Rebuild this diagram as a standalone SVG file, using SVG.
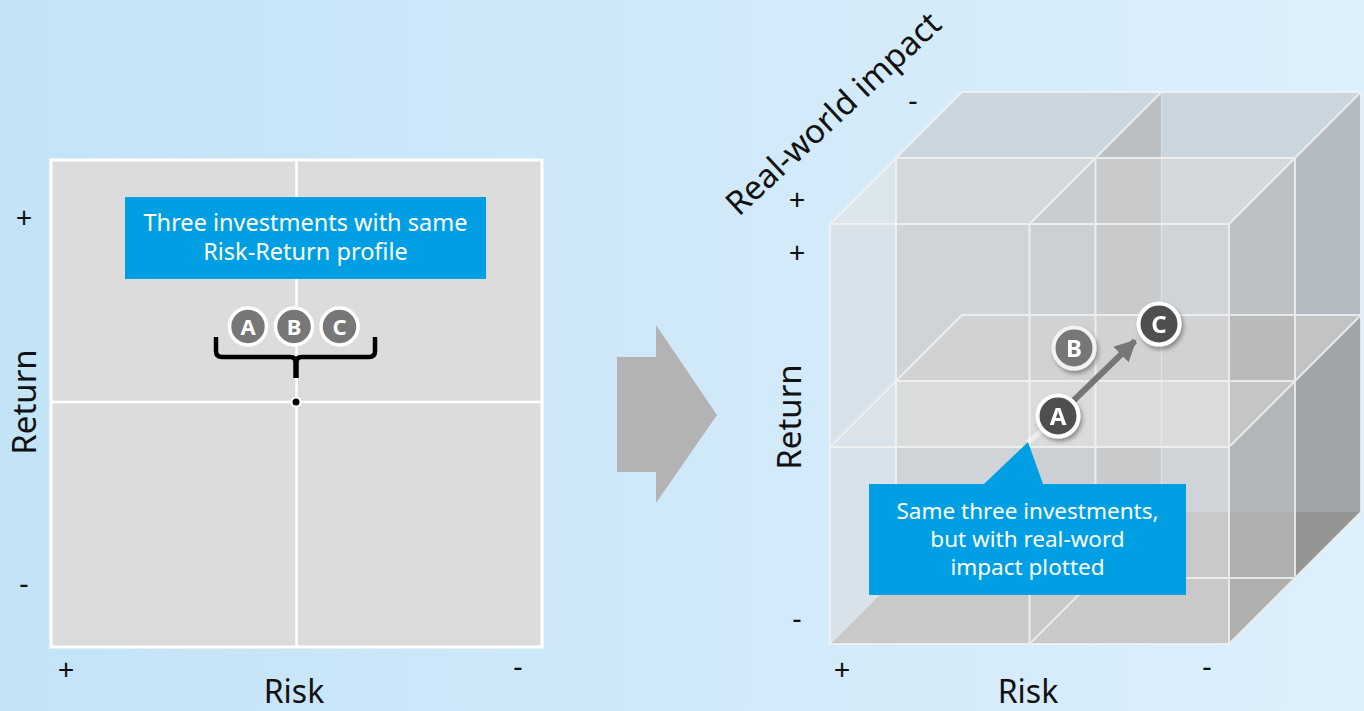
<svg xmlns="http://www.w3.org/2000/svg" width="1364" height="711" viewBox="0 0 1364 711">
<defs>
<linearGradient id="bg" x1="0" y1="0" x2="1" y2="0">
<stop offset="0" stop-color="#c3e3f7"/>
<stop offset="1" stop-color="#ddeffb"/>
</linearGradient>
<filter id="sh" x="-50%" y="-50%" width="200%" height="200%">
<feDropShadow dx="2" dy="3" stdDeviation="2" flood-color="#000" flood-opacity="0.35"/>
</filter>
<marker id="ah" viewBox="0 0 10 10" refX="9" refY="5" markerWidth="3.6" markerHeight="3.6" orient="auto" markerUnits="strokeWidth">
<path d="M0,0 L10,5 L0,10 Z" fill="#787575"/>
</marker>
</defs>
<style>
.t{font-family:"Noto Sans","Open Sans",sans-serif;fill:#111}
.ax{font-size:33px}
.rk{font-size:32px}
.pm{font-size:29px}
.bx{font-family:"Noto Sans","Open Sans",sans-serif;font-size:23.5px;fill:#fff;text-anchor:middle}
.bx2{font-family:"Noto Sans","Open Sans",sans-serif;font-size:22.5px;fill:#fff;text-anchor:middle}
.blue{fill:#009fe3}
.cl{font-family:"Noto Sans","Open Sans",sans-serif;font-weight:bold;fill:#fff;text-anchor:middle}
.edge{fill:none;stroke:#f4f4f4;stroke-opacity:0.8;stroke-width:2}
.faint{fill:none;stroke:#f4f4f4;stroke-opacity:0.45;stroke-width:1.5}
</style>
<rect width="1364" height="711" fill="url(#bg)"/>

<g id="left-chart">
<rect x="51" y="160" width="491" height="487" fill="#dcdcdc" stroke="#fff" stroke-width="3"/>
<line x1="296.5" y1="160" x2="296.5" y2="647" stroke="#fff" stroke-width="2.5"/>
<line x1="51" y1="402" x2="542" y2="402" stroke="#fff" stroke-width="2.5"/>
</g>

<g id="left-box">
<rect x="125" y="197" width="361" height="82" class="blue"/>
<text class="bx" x="305.5" y="231">Three investments with same</text>
<text class="bx" x="305.5" y="260">Risk-Return profile</text>
</g>

<g id="left-abc">
<path d="M216,337 V351 Q216,357 222,357 H290 Q296,357 296,363 M375,337 V351 Q375,357 369,357 H302 Q296,357 296,363" fill="none" stroke="#000" stroke-width="4.5" stroke-linejoin="round"/>
<line x1="296" y1="358" x2="296" y2="378" stroke="#000" stroke-width="5.5"/>
<circle cx="296" cy="402" r="4.5" fill="#000" stroke="#fff" stroke-width="2"/>
<g id="lA"><circle cx="248" cy="326.5" r="18.5" fill="#777" stroke="#fff" stroke-width="3.5"/><text class="cl" x="248" y="334.5" font-size="22">A</text></g>
<g id="lB"><circle cx="294" cy="326.5" r="18.5" fill="#777" stroke="#fff" stroke-width="3.5"/><text class="cl" x="294" y="334.5" font-size="22">B</text></g>
<g id="lC"><circle cx="339.5" cy="326.5" r="18.5" fill="#777" stroke="#fff" stroke-width="3.5"/><text class="cl" x="339.5" y="334.5" font-size="22">C</text></g>
</g>

<g id="left-axes">
<text class="t pm" x="24" y="228" text-anchor="middle">+</text>
<text class="t pm" x="24" y="594" text-anchor="middle">-</text>
<text class="t ax" transform="translate(36,402) rotate(-90)" text-anchor="middle">Return</text>
<text class="t pm" x="66" y="680" text-anchor="middle">+</text>
<text class="t pm" x="518" y="677" text-anchor="middle">-</text>
<text class="t rk" x="294" y="703" text-anchor="middle">Risk</text>
</g>

<g id="big-arrow">
<polygon points="617,357 656,357 656,325 717,415 656,503 656,472 617,472" fill="#b3b3b3"/>
</g>

<g id="cube">
<polygon points="830,224 962,92 1361,92 1361,512 1229,644 830,644" fill="#cfd4d8"/>
<polygon points="830,224 896,158 896,578 830,644" fill="#d7e2ea"/>
<polygon points="896,158 962,92 1361,92 1295,158" fill="#cbd6de"/>
<polygon points="896,158 1295,158 1229,224 896,224" fill="#d3d8dc"/>
<polygon points="830,224 896,158 896,224" fill="#dbe5ec"/>
<polygon points="1029.5,224 1095.5,158 1095.5,578 1029.5,644" fill="#cdd0d2"/>
<polygon points="1029.5,224 1095.5,158 1095.5,224" fill="#c9cdd0"/>
<polygon points="1095.5,158 1161.5,92 1161.5,512 1095.5,578" fill="#c9cacb"/>
<polygon points="1095.5,158 1161.5,92 1161.5,158" fill="#b9bfc3"/>
<polygon points="1229,224 1295,158 1295,381 1229,447" fill="#bbc0c3"/>
<polygon points="1295,158 1361,92 1361,315 1295,381" fill="#b4bbc2"/>
<polygon points="1229,447 1295,381 1295,578 1229,644" fill="#b3b6b8"/>
<polygon points="1295,381 1361,315 1361,512 1295,578" fill="#a0a5a8"/>
<polygon points="896,381 962,315 1229,315 1229,381" fill="#d1d2d3"/>
<polygon points="830,447 896,381 1229,381 1229,447" fill="#dadbdb"/>
<polygon points="830,447 896,381 896,447" fill="#dae3e9"/>
<polygon points="1229,315 1295,315 1295,381 1229,381" fill="#b9baba"/>
<polygon points="1229,381 1295,381 1229,447" fill="#c4c6c6"/>
<polygon points="1295,315 1361,315 1295,381" fill="#c1c3c4"/>
<polygon points="830,644 962,512 1229,512 1229,644" fill="#c9c9c9"/>
<polygon points="1229,512 1295,512 1295,578 1229,644" fill="#afafae"/>
<polygon points="1295,512 1361,512 1295,578" fill="#949493"/>
<path class="edge" d="M830,224 H1229 V644 H830 Z M1029.5,224 V644 M830,447 H1229 M896,158 H1295 V578 H896 Z M1095.5,158 V578 M896,381 H1295 M962,92 H1361 V512 M962,315 H1361 M830,224 L962,92 M1029.5,224 L1161.5,92 M1229,224 L1361,92 M830,447 L962,315 M1229,447 L1361,315 M1029.5,644 L1161.5,512 M1229,644 L1361,512"/>
<path class="faint" d="M830,644 L962,512 M1161.5,92 V512"/>
</g>

<g id="connectors">
<line x1="1027" y1="443" x2="1046" y2="427" stroke="#fff" stroke-opacity="0.5" stroke-width="5"/>
<line x1="1070" y1="404" x2="1135" y2="341" stroke="#787575" stroke-width="6" marker-end="url(#ah)"/>
</g>

<g id="rB" filter="url(#sh)"><circle cx="1074" cy="348" r="20.5" fill="#777" stroke="#f2f2f2" stroke-width="4"/><text class="cl" x="1074" y="356.5" font-size="24">B</text></g>
<g id="rA" filter="url(#sh)"><circle cx="1058" cy="416" r="20.5" fill="#4f4f4f" stroke="#fff" stroke-width="4"/><text class="cl" x="1058" y="424.5" font-size="24">A</text></g>
<g id="rC" filter="url(#sh)"><circle cx="1159" cy="324" r="20.5" fill="#505050" stroke="#fff" stroke-width="4"/><text class="cl" x="1159" y="332.5" font-size="24">C</text></g>

<g id="callout">
<polygon points="869,484 984,484 1028,442 1043,484 1186,484 1186,595 869,595" class="blue"/>
<text class="bx2" x="1027.5" y="519">Same three investments,</text>
<text class="bx2" x="1027.5" y="547">but with real-word</text>
<text class="bx2" x="1027.5" y="575">impact plotted</text>
</g>

<g id="right-axes">
<text class="t ax" transform="translate(841,122) rotate(-43)" text-anchor="middle">Real-world impact</text>
<text class="t pm" x="913" y="111" text-anchor="middle">-</text>
<text class="t pm" x="797" y="210" text-anchor="middle">+</text>
<text class="t pm" x="797" y="263" text-anchor="middle">+</text>
<text class="t pm" x="797" y="629" text-anchor="middle">-</text>
<text class="t ax" transform="translate(801,417) rotate(-90)" text-anchor="middle">Return</text>
<text class="t pm" x="842" y="680" text-anchor="middle">+</text>
<text class="t pm" x="1207" y="677" text-anchor="middle">-</text>
<text class="t rk" x="1028" y="703" text-anchor="middle">Risk</text>
</g>
</svg>
